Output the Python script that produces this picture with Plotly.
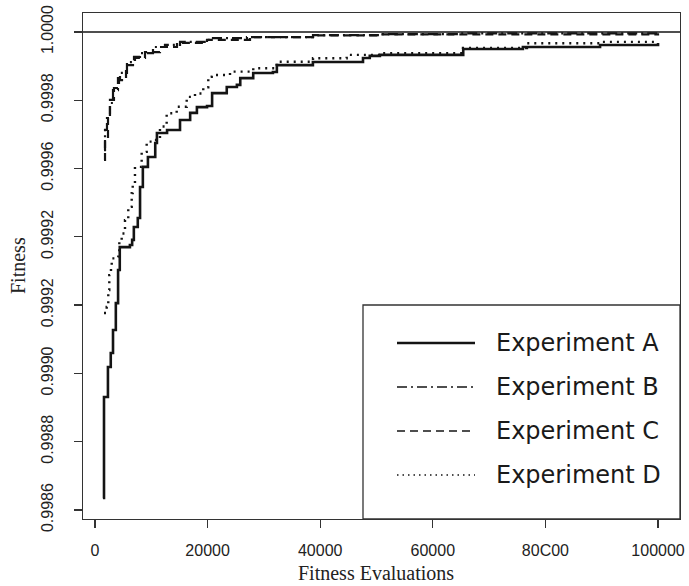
import plotly.graph_objects as go

# ---------------- data ----------------
a_x = [1400, 1600, 2300, 2300, 2800, 3200, 3700, 4100, 4400, 6200, 6600, 6900, 7600, 8000, 8500,
       9400, 10700, 11000, 12800, 15100, 16900, 18100, 19900, 20800, 23400, 25200, 25800, 28100,
       31600, 32300, 37700, 38700, 47600, 48800, 50600, 65400, 76000, 89700, 100000]
a_y = [0.998635, 0.998931, 0.998931, 0.999019, 0.999060, 0.999127, 0.999206, 0.999303, 0.999370,
       0.999376, 0.999391, 0.999429, 0.999455, 0.999546, 0.999605, 0.999634, 0.999675, 0.999704,
       0.999713, 0.999742, 0.999763, 0.999780, 0.999783, 0.999821, 0.999839, 0.999845, 0.999865,
       0.999880, 0.999883, 0.999903, 0.999903, 0.999912, 0.999924, 0.999930, 0.999933, 0.999950,
       0.999956, 0.999962, 0.999968]

b_x = [1600, 1780, 2130, 2660, 3200, 4080, 4440, 5680, 6930, 7990, 10300, 12430, 15100, 19890,
       20960, 26990, 38720, 50620, 64820, 100000]
b_y = [0.999654, 0.999713, 0.999757, 0.999792, 0.999830, 0.999865, 0.999880, 0.999912, 0.999927,
       0.999938, 0.999956, 0.999962, 0.999971, 0.999977, 0.999982, 0.999985, 0.999991, 0.999994,
       0.999996, 0.999997]

c_x = [1600, 1780, 2310, 2660, 3370, 4260, 5510, 7100, 8880, 11540, 14560, 19890, 27530, 38720,
       50620, 100000]
c_y = [0.999625, 0.999684, 0.999748, 0.999801, 0.999836, 0.999859, 0.999903, 0.999924, 0.999941,
       0.999956, 0.999968, 0.999977, 0.999985, 0.999990, 0.999993, 0.999996]

d_x = [1600, 2080, 2360, 2540, 2840, 2970, 4140, 4320, 4740, 5330, 5910, 6520, 6700, 7100, 8290,
       9180, 10070, 11540, 12730, 14510, 16290, 17760, 19230, 20120, 20730, 23980, 28110, 31670,
       32270, 38720, 44700, 50620, 65360, 76720, 89690, 100000]
d_y = [0.999177, 0.999195, 0.999244, 0.999288, 0.999313, 0.999337, 0.999342, 0.999386, 0.999410,
       0.999449, 0.999488, 0.999528, 0.999557, 0.999605, 0.999649, 0.999679, 0.999684, 0.999723,
       0.999762, 0.999781, 0.999810, 0.999820, 0.999838, 0.999869, 0.999874, 0.999884, 0.999894,
       0.999894, 0.999913, 0.999923, 0.999933, 0.999938, 0.999953, 0.999967, 0.999971, 0.999972]

series_names = ["Experiment A", "Experiment B", "Experiment C", "Experiment D"]

x_tickvals = [0, 20000, 40000, 60000, 80000, 100000]
x_ticktext = ["0", "20000", "40000", "60000", "80C00", "100000"]
y_tickvals = [0.9986, 0.9988, 0.9990, 0.9992, 0.9994, 0.9996, 0.9998, 1.0000]
y_ticktext = ["0.9986", "0.9988", "0.9990", "0.9992", "0.9992", "0.9996", "0.9998", "1.0000"]

# ---------------- styles ----------------
INK = "#141414"
styles = [
    dict(dash="solid", width=2.6),
    dict(dash="10px,4px,2px,4px", width=2.2),
    dict(dash="8px,5px", width=2.2),
    dict(dash="2px,5px", width=2.4),
]

fig = go.Figure()
for (xs, ys), name, st in zip([(a_x, a_y), (b_x, b_y), (c_x, c_y), (d_x, d_y)], series_names, styles):
    fig.add_trace(go.Scatter(x=xs, y=ys, mode="lines", name=name, line_shape="hv",
                             line=dict(color=INK, width=st["width"], dash=st["dash"]),
                             showlegend=False, hoverinfo="skip"))

# reference line at fitness 1.0
fig.add_shape(type="line", xref="paper", x0=0, x1=1, yref="y", y0=1.0, y1=1.0,
              line=dict(color=INK, width=1.3))

# ---------------- manual legend box ----------------
L, R, T, B = 83, 680, 13, 519
def px(xp):
    return (xp - L) / (R - L)
def py(yp):
    return (B - yp) / (B - T)

fig.add_shape(type="rect", xref="paper", yref="paper", x0=px(363), x1=1, y0=0, y1=py(305),
              line=dict(color="#333333", width=1.3), fillcolor="white", layer="above")
rows = [343, 387, 431, 475]
for name, st, ry in zip(series_names, styles, rows):
    fig.add_shape(type="line", xref="paper", yref="paper", x0=px(397), x1=px(475),
                  y0=py(ry), y1=py(ry), layer="above",
                  line=dict(color=INK, width=st["width"] if st["dash"] == "solid" else 1.6,
                            dash=st["dash"] if st["dash"] != "2px,5px" else "1.5px,4px"))
    fig.add_annotation(xref="paper", yref="paper", x=px(494), y=py(ry), text=name,
                       showarrow=False, xanchor="left", yanchor="middle",
                       font=dict(family="DejaVu Sans, sans-serif", size=24, color="#1a1a1a"))

# axis titles
fig.add_annotation(xref="paper", yref="paper", x=0.49, y=0, yshift=-54, text="Fitness Evaluations",
                   showarrow=False, xanchor="center", yanchor="middle",
                   font=dict(family="Liberation Serif, Times New Roman, serif", size=20, color="#222"))
fig.add_annotation(xref="paper", yref="paper", x=0, xshift=-65, y=0.5, text="Fitness",
                   showarrow=False, textangle=-90, xanchor="center", yanchor="middle",
                   font=dict(family="Liberation Serif, Times New Roman, serif", size=20, color="#222"))

axis_common = dict(showgrid=False, zeroline=False, showline=True, mirror=True,
                   linecolor="#333333", linewidth=1.3, ticks="outside", ticklen=8,
                   tickwidth=1.3, tickcolor="#333333", automargin=False,
                   tickfont=dict(family="Liberation Sans, Arial, sans-serif", size=16, color="#222"))

fig.update_layout(
    width=689, height=586,
    margin=dict(l=L, r=689 - R, t=T, b=586 - B),
    paper_bgcolor="white", plot_bgcolor="white",
    xaxis=dict(range=[-2130, 103900], tickvals=x_tickvals, ticktext=x_ticktext,
               ticklabelstandoff=8, **axis_common),
    yaxis=dict(range=[0.9985736, 1.0000556], tickvals=y_tickvals, ticktext=y_ticktext,
               tickangle=-90, ticklabelstandoff=14, **axis_common),
)

fig.write_html("out.html", config={"displayModeBar": False, "staticPlot": True},
               post_script="document.body.style.margin='0';document.body.style.overflow='hidden';")
